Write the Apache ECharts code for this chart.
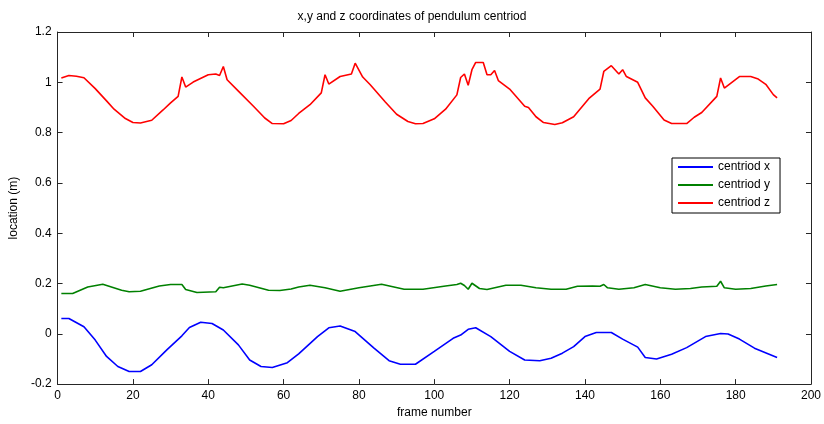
<!DOCTYPE html>
<html>
<head>
<meta charset="utf-8">
<script src="https://cdn.jsdelivr.net/npm/echarts@6/dist/echarts.min.js"></script>
<style>html,body{margin:0;padding:0;background:#fff}#c{width:824px;height:424px}</style>
</head>
<body>
<div id="c"></div>
<script>
const titleText = 'x,y and z coordinates of pendulum centriod';
const xName = 'frame number';
const yName = 'location (m)';
const seriesNames = ['centriod x', 'centriod y', 'centriod z'];
const xTicks = {min: 0, max: 200, interval: 20};
const yTicks = {min: -0.2, max: 1.2, interval: 0.2};

const centroidX = [[1,0.061],[3,0.061],[7,0.028],[10,-0.025],[13,-0.090],[16,-0.130],[19,-0.150],[22,-0.150],[25,-0.123],[29,-0.064],[33,-0.008],[35,0.025],[38,0.046],[41,0.041],[44,0.015],[48,-0.044],[51,-0.104],[54,-0.130],[57,-0.134],[61,-0.115],[64,-0.080],[69,-0.011],[72,0.024],[75,0.031],[79,0.009],[84,-0.057],[88,-0.107],[91,-0.121],[95,-0.121],[100,-0.070],[105,-0.018],[107,-0.005],[109,0.018],[111,0.024],[115,-0.011],[120,-0.070],[124,-0.104],[128,-0.107],[131,-0.097],[134,-0.077],[137,-0.051],[140,-0.011],[143,0.005],[147,0.005],[150,-0.021],[154,-0.053],[156,-0.094],[159,-0.100],[163,-0.081],[167,-0.055],[172,-0.011],[176,0.001],[178,-0.001],[181,-0.021],[185,-0.057],[191,-0.094]];

const centroidY = [[1,0.160],[4,0.160],[8,0.186],[12,0.197],[17,0.173],[19,0.167],[22,0.169],[27,0.190],[30,0.196],[33,0.196],[34,0.176],[37,0.164],[42,0.167],[43,0.185],[44,0.183],[49,0.198],[51,0.193],[56,0.173],[59,0.172],[62,0.178],[64,0.186],[67,0.193],[71,0.183],[75,0.169],[80,0.183],[86,0.197],[92,0.177],[97,0.177],[103,0.190],[106,0.196],[107,0.201],[108,0.192],[109,0.177],[110,0.201],[112,0.180],[114,0.176],[119,0.193],[123,0.193],[127,0.183],[131,0.177],[135,0.177],[138,0.189],[142,0.190],[144,0.189],[145,0.196],[146,0.183],[149,0.177],[153,0.183],[156,0.196],[160,0.183],[164,0.177],[168,0.180],[171,0.186],[175,0.189],[176,0.209],[177,0.183],[180,0.177],[184,0.180],[188,0.190],[191,0.196]];

const centroidZ = [[1,1.017],[3,1.027],[5,1.024],[7,1.018],[10,0.975],[13,0.926],[15,0.893],[18,0.856],[20,0.840],[22,0.838],[25,0.849],[28,0.890],[30,0.918],[32,0.944],[33,1.021],[34,0.981],[36,1.001],[40,1.030],[42,1.033],[43,1.027],[44,1.063],[45,1.010],[48,0.965],[52,0.905],[55,0.858],[57,0.836],[60,0.835],[62,0.848],[64,0.876],[67,0.911],[70,0.958],[71,1.030],[72,0.993],[75,1.023],[78,1.033],[79,1.076],[81,1.021],[83,0.990],[87,0.922],[90,0.873],[93,0.844],[95,0.835],[97,0.836],[100,0.855],[103,0.893],[106,0.950],[107,1.019],[108,1.033],[109,0.988],[110,1.050],[111,1.079],[113,1.079],[114,1.030],[115,1.030],[116,1.047],[117,1.007],[120,0.973],[124,0.905],[125,0.900],[127,0.863],[129,0.840],[132,0.832],[134,0.839],[137,0.863],[141,0.935],[144,0.973],[145,1.043],[147,1.066],[149,1.033],[150,1.050],[151,1.023],[154,1.000],[156,0.938],[158,0.905],[161,0.850],[163,0.836],[167,0.836],[169,0.861],[171,0.880],[175,0.944],[176,1.017],[177,0.977],[181,1.023],[184,1.023],[186,1.013],[188,0.992],[190,0.951],[191,0.938]];

const colors = ['#0000ff', '#008000', '#ff0000'];
const FONT = 'Liberation Sans';

const chart = echarts.init(document.getElementById('c'), null, {renderer: 'canvas'});
const axisLine = {show: true, onZero: false, lineStyle: {color: '#262626', width: 1}};
const tick = {show: true, inside: true, length: 5, lineStyle: {color: '#262626'}};
const lbl = {color: '#000', fontFamily: FONT, fontSize: 12};

chart.setOption({
  animation: false,
  backgroundColor: '#fff',
  title: {text: titleText, left: 'center', top: 6, textStyle: {fontFamily: FONT, fontSize: 12, fontWeight: 'normal', color: '#000'}},
  grid: {left: 57, right: 12, top: 32, bottom: 38, containLabel: false},
  legend: {
    orient: 'vertical', left: 672, top: 158, data: seriesNames,
    backgroundColor: '#fff', borderColor: '#000', borderWidth: 1, padding: [3, 10, 4, 6],
    itemGap: 6, itemWidth: 35, itemHeight: 2, icon: 'rect',
    textStyle: {fontFamily: FONT, fontSize: 12, color: '#000'}
  },
  xAxis: [
    {type: 'value', min: xTicks.min, max: xTicks.max, interval: xTicks.interval, position: 'bottom',
     name: xName, nameLocation: 'middle', nameGap: 21, nameTextStyle: lbl,
     axisLine, axisTick: tick, axisLabel: Object.assign({margin: 6}, lbl), splitLine: {show: false}},
    {type: 'value', min: xTicks.min, max: xTicks.max, interval: xTicks.interval, position: 'top',
     axisLine, axisTick: tick, axisLabel: {show: false}, splitLine: {show: false}}
  ],
  yAxis: [
    {type: 'value', min: yTicks.min, max: yTicks.max, interval: yTicks.interval, position: 'left',
     name: yName, nameLocation: 'middle', nameGap: 36, nameTextStyle: lbl,
     axisLine, axisTick: tick, axisLabel: Object.assign({margin: 6}, lbl), splitLine: {show: false}},
    {type: 'value', min: yTicks.min, max: yTicks.max, interval: yTicks.interval, position: 'right',
     axisLine, axisTick: tick, axisLabel: {show: false}, splitLine: {show: false}}
  ],
  series: [
    {name: seriesNames[0], type: 'line', data: centroidX, symbol: 'none', color: colors[0], lineStyle: {width: 1.6}},
    {name: seriesNames[1], type: 'line', data: centroidY, symbol: 'none', color: colors[1], lineStyle: {width: 1.6}},
    {name: seriesNames[2], type: 'line', data: centroidZ, symbol: 'none', color: colors[2], lineStyle: {width: 1.6}}
  ]
});
</script>
</body>
</html>
